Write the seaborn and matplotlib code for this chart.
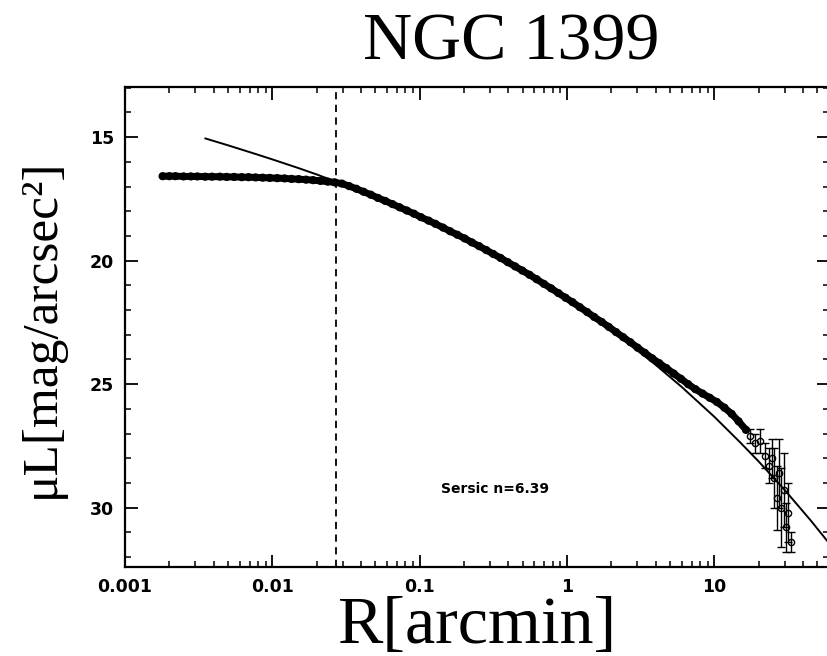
import numpy as np
import pandas as pd
import matplotlib
matplotlib.use("Agg")
import matplotlib.pyplot as plt
import seaborn as sns
from matplotlib.ticker import LogLocator, FixedLocator, MultipleLocator, NullFormatter

# ---- data ----
r_prof = [0.0018, 0.0020, 0.0022, 0.0025, 0.0028, 0.0031, 0.0035, 0.0039, 0.0044, 0.0049,
          0.0055, 0.0062, 0.0069, 0.0077, 0.0086, 0.0096, 0.0108, 0.0121, 0.0135, 0.0151,
          0.0169, 0.0189, 0.0212, 0.0237, 0.0265, 0.0297, 0.0332, 0.0372, 0.0416, 0.0466,
          0.0521, 0.0583, 0.0653, 0.0731, 0.0818, 0.0915, 0.102, 0.115, 0.128, 0.144,
          0.161, 0.180, 0.202, 0.226, 0.253, 0.283, 0.316, 0.354, 0.396, 0.444,
          0.497, 0.556, 0.622, 0.697, 0.780, 0.873, 0.977, 1.09, 1.22, 1.37,
          1.53, 1.72, 1.92, 2.15, 2.41, 2.69, 3.01, 3.37, 3.78, 4.23,
          4.73, 5.30, 5.93, 6.64, 7.43, 8.32, 9.31, 10.4, 11.7, 13.1,
          14.6, 16.4]
mu_prof = [16.58, 16.58, 16.58, 16.59, 16.59, 16.59, 16.60, 16.60, 16.60, 16.61,
           16.61, 16.62, 16.62, 16.63, 16.64, 16.65, 16.66, 16.67, 16.69, 16.70,
           16.72, 16.74, 16.77, 16.80, 16.83, 16.88, 16.98, 17.09, 17.21, 17.33,
           17.46, 17.58, 17.71, 17.84, 17.97, 18.10, 18.24, 18.38, 18.51, 18.66,
           18.81, 18.95, 19.10, 19.26, 19.41, 19.57, 19.73, 19.89, 20.06, 20.23,
           20.40, 20.57, 20.75, 20.94, 21.12, 21.31, 21.50, 21.68, 21.88, 22.08,
           22.28, 22.48, 22.68, 22.89, 23.10, 23.30, 23.52, 23.73, 23.95, 24.15,
           24.35, 24.57, 24.78, 25.00, 25.20, 25.38, 25.55, 25.72, 25.95, 26.20,
           26.50, 26.85]

r_outer = [17.5, 19.0, 20.5, 22.0, 23.5, 24.5, 25.5, 26.5, 27.5, 28.5, 29.5, 30.5, 31.5, 33.0]
mu_outer = [27.1, 27.4, 27.3, 27.9, 28.3, 28.0, 28.8, 29.6, 28.6, 30.0, 29.3, 30.8, 30.2, 31.4]
err_outer = [0.3, 0.4, 0.5, 0.5, 0.7, 0.8, 1.2, 1.3, 1.4, 1.6, 1.5, 1.0, 1.2, 0.4]

r_fit = [0.0035, 0.005, 0.0075, 0.01, 0.015, 0.02, 0.027, 0.04, 0.06, 0.1, 0.15, 0.25,
         0.4, 0.6, 1.0, 1.5, 2.5, 4, 6, 10, 15, 20, 30, 45, 65]
mu_fit = [15.05, 15.33, 15.66, 15.90, 16.25, 16.51, 16.80, 17.20, 17.63, 18.22, 18.72, 19.41,
          20.08, 20.71, 21.55, 22.27, 23.25, 24.22, 25.11, 26.32, 27.36, 28.13, 29.28, 30.51, 31.69]

r_break = 0.027
title = "NGC 1399"
xlabel = "R[arcmin]"
ylabel = "μL[mag/arcsec²]"
note = "Sersic n=6.39"
x_ticks = [0.001, 0.01, 0.1, 1, 10]
x_ticklabels = ["0.001", "0.01", "0.1", "1", "10"]
y_ticks = [15, 20, 25, 30]

prof = pd.DataFrame({"R": r_prof, "mu": mu_prof})
fit = pd.DataFrame({"R": r_fit, "mu": mu_fit})
outer = pd.DataFrame({"R": r_outer, "mu": mu_outer, "err": err_outer})

sns.set_style("ticks")
plt.rcParams["font.family"] = ["DejaVu Sans"]
plt.rcParams["text.color"] = "black"
plt.rcParams["xtick.color"] = "black"
plt.rcParams["ytick.color"] = "black"
plt.rcParams["axes.labelcolor"] = "black"

fig = plt.figure(figsize=(8.27, 6.56), dpi=100)
ax = fig.add_axes([125 / 827, 1 - 567 / 656, (829 - 125) / 827, (567 - 87) / 656])

# data band
sns.lineplot(data=prof, x="R", y="mu", ax=ax, color="black", lw=5, sort=False, zorder=2)
sns.scatterplot(data=prof, x="R", y="mu", ax=ax, marker="o", s=24, facecolor="none",
                edgecolor="black", linewidth=1.0, zorder=3)
ax.errorbar(outer["R"], outer["mu"], yerr=outer["err"], fmt="o", ms=4.5, mfc="none",
            mec="black", mew=1.0, ecolor="black", elinewidth=1.0, capsize=3, capthick=1.0,
            zorder=3)
# Sersic fit
sns.lineplot(data=fit, x="R", y="mu", ax=ax, color="black", lw=1.4, sort=False, zorder=4)
ax.axvline(r_break, color="black", lw=1.3, ls=(0, (4, 3)), zorder=1)

ax.set_xscale("log")
ax.set_xlim(0.001, 60)
ax.set_ylim(32.4, 12.97)

ax.xaxis.set_major_locator(FixedLocator(x_ticks))
ax.set_xticklabels(x_ticklabels)
ax.xaxis.set_minor_locator(LogLocator(base=10, subs=np.arange(2, 10), numticks=20))
ax.xaxis.set_minor_formatter(NullFormatter())
ax.yaxis.set_major_locator(FixedLocator(y_ticks))
ax.yaxis.set_minor_locator(MultipleLocator(1))

ax.tick_params(which="both", direction="in", top=True, right=True, color="black",
               labelcolor="black")
ax.tick_params(which="major", length=9, width=1.3, pad=8)
ax.tick_params(which="minor", length=4, width=1.1)
for lab in ax.get_xticklabels() + ax.get_yticklabels():
    lab.set_fontweight("bold")
    lab.set_fontsize(12.5)
for s in ax.spines.values():
    s.set_linewidth(1.6)
    s.set_color("black")
ax.set_xlabel("")
ax.set_ylabel("")

ax.text(0.327, 29.23, note, fontsize=10, fontweight="bold", ha="center", va="center",
        color="black")

serif = ["Liberation Serif", "DejaVu Serif"]
fig.text(511 / 827, 1 - 60 / 656, title, family=serif, fontsize=49, ha="center",
         va="baseline", color="black")
fig.text(477 / 827, 1 - 643 / 656, xlabel, family=serif, fontsize=49, ha="center",
         va="baseline", color="black")
fig.text(42 / 827, 1 - 328 / 656, ylabel, family=serif, fontsize=37, ha="center",
         va="center", rotation=90, color="black")

fig.savefig("out.png", dpi=100)
